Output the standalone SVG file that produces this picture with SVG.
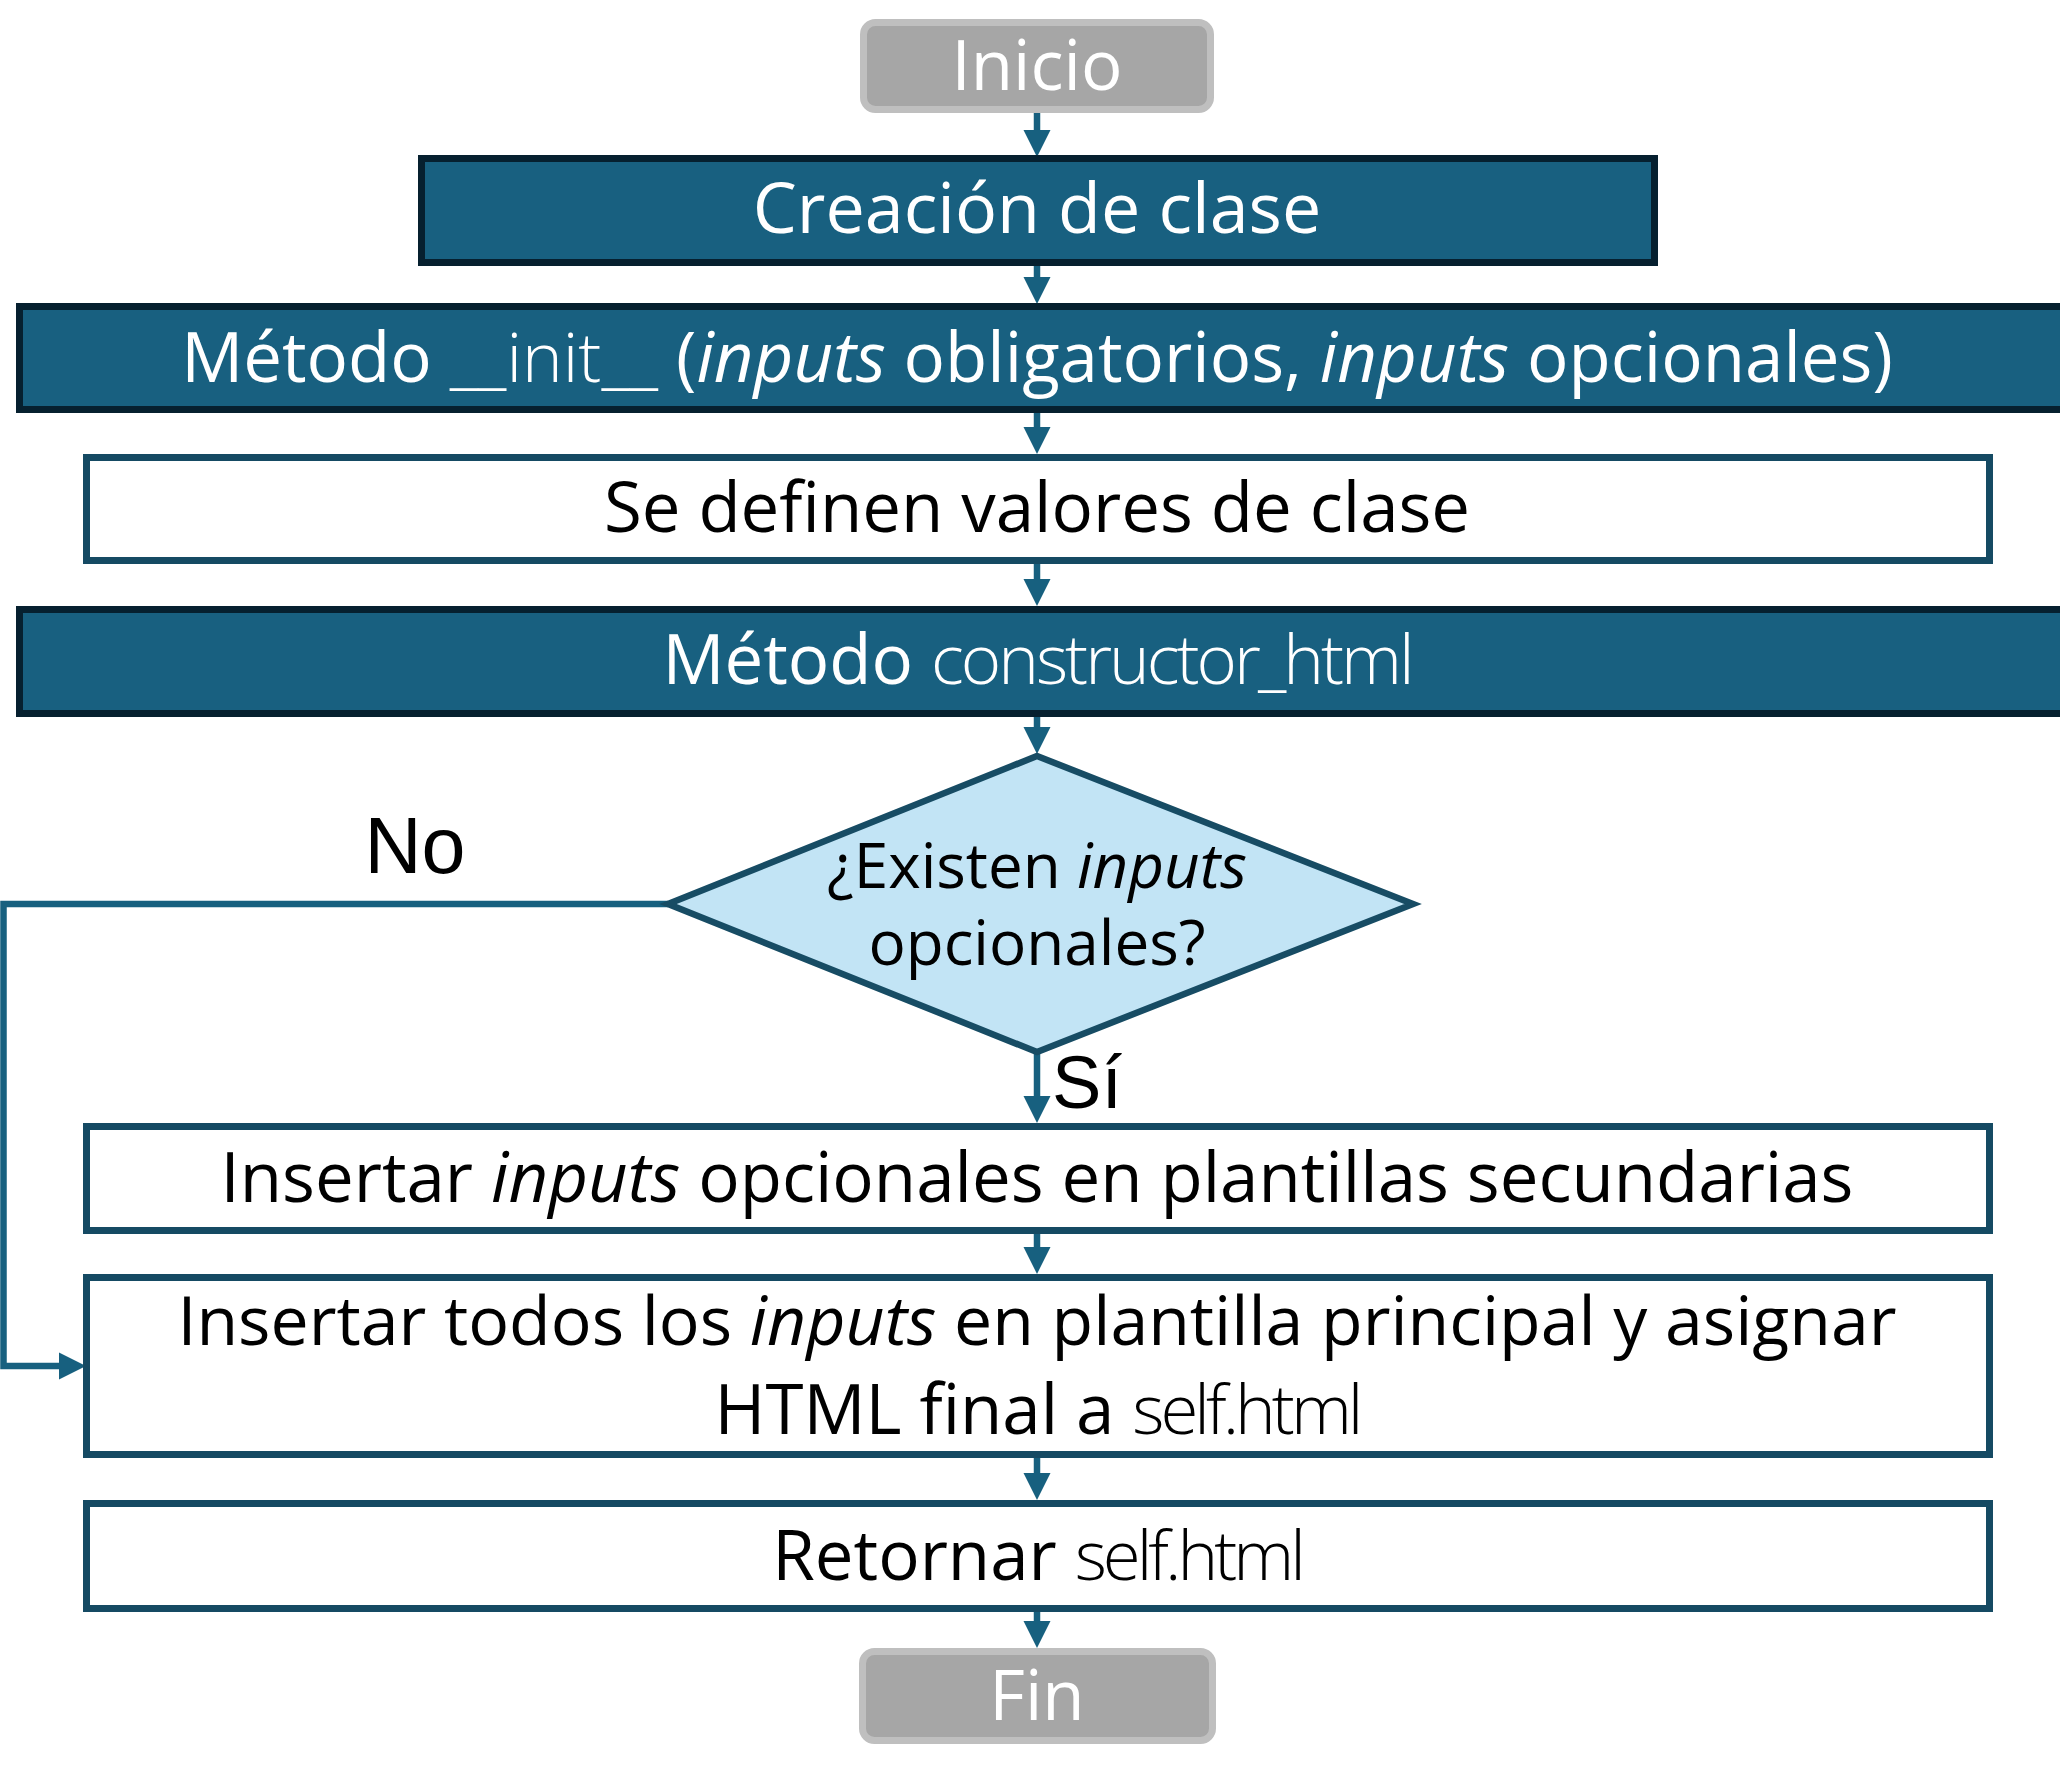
<svg xmlns="http://www.w3.org/2000/svg" width="2060" height="1784" viewBox="0 0 2060 1784">
<style>
.t{font-family:"Open Sans","Noto Sans","Liberation Sans",sans-serif;font-size:69px;text-anchor:middle}
.w{fill:#ffffff}
.k{fill:#000000}
.lt{font-weight:300}
.nar{letter-spacing:-4px}
.it{font-style:italic}
.term{fill:#a6a6a6;stroke:#bfbfbf;stroke-width:7}
.dark{fill:#186080;stroke:#06202f;stroke-width:7}
.light{fill:#ffffff;stroke:#154a63;stroke-width:7}
.dec{fill:#c2e4f5;stroke:#174c64;stroke-width:6.5;stroke-linejoin:miter}
.con{fill:none;stroke:#17607f;stroke-width:6.5;marker-end:url(#ah)}
.lab{font-family:"Liberation Sans",Arial,sans-serif;font-size:74px;fill:#000000;text-anchor:middle}
</style>
<defs>
<marker id="ah" markerUnits="userSpaceOnUse" markerWidth="28" markerHeight="28" refX="0" refY="13.5" orient="auto" overflow="visible">
<path d="M0,0 L27,13.5 L0,27 Z" fill="#17607f"/>
</marker>
</defs>
<rect width="2060" height="1784" fill="#ffffff"/>
<g id="connectors">
<path class="con" d="M1037,112 V130"/>
<path class="con" d="M1037,266 V277"/>
<path class="con" d="M1037,413 V427"/>
<path class="con" d="M1037,564 V579"/>
<path class="con" d="M1037,717 V727"/>
<path class="con" d="M1037,1052 V1096"/>
<path class="con" d="M1037,1234 V1247"/>
<path class="con" d="M1037,1458 V1473"/>
<path class="con" d="M1037,1612 V1621"/>
<path class="con" d="M668,904 H3.5 V1366 H59"/>
<text class="lab" x="415" y="873" style="font-size:79px">No</text>
<text class="lab" x="1087" y="1108">Sí</text>
</g>
<g id="inicio">
<rect class="term" x="863.5" y="22.5" width="347" height="87" rx="12"/>
<text class="t w" x="1037" y="90">Inicio</text>
</g>
<g id="creacion">
<rect class="dark" x="421.5" y="158.5" width="1233" height="104"/>
<text class="t w" x="1037" y="233" style="font-size:70px">Creación de clase</text>
</g>
<g id="init">
<rect class="dark" x="19.5" y="306.5" width="2100" height="103"/>
<text class="t w" x="1037" y="382">Método <tspan class="lt">__init__</tspan> (<tspan class="it">inputs</tspan> obligatorios, <tspan class="it">inputs</tspan> opcionales)</text>
</g>
<g id="valores">
<rect class="light" x="86.5" y="457.5" width="1903" height="103"/>
<text class="t k" x="1037" y="532">Se definen valores de clase</text>
</g>
<g id="constructor">
<rect class="dark" x="19.5" y="609.5" width="2100" height="104"/>
<text class="t w" x="1037" y="684">Método <tspan class="lt" style="letter-spacing:-3px">constructor_html</tspan></text>
</g>
<g id="decision">
<polygon class="dec" points="1037,756 1413,904 1037,1052 668,904"/>
<text class="t k" x="1037" y="888" style="font-size:62px">¿Existen <tspan class="it">inputs</tspan></text>
<text class="t k" x="1037" y="965" style="font-size:62px">opcionales?</text>
</g>
<g id="insertar-opcionales">
<rect class="light" x="86.5" y="1126.5" width="1903" height="104"/>
<text class="t k" x="1037" y="1202">Insertar <tspan class="it">inputs</tspan> opcionales en plantillas secundarias</text>
</g>
<g id="insertar-todos">
<rect class="light" x="86.5" y="1277.5" width="1903" height="177"/>
<text class="t k" x="1037" y="1345" style="font-size:68px">Insertar todos los <tspan class="it">inputs</tspan> en plantilla principal y asignar</text>
<text class="t k" x="1037" y="1434">HTML final a <tspan class="lt nar">self.html</tspan></text>
</g>
<g id="retornar">
<rect class="light" x="86.5" y="1503.5" width="1903" height="105"/>
<text class="t k" x="1037" y="1580">Retornar <tspan class="lt nar">self.html</tspan></text>
</g>
<g id="fin">
<rect class="term" x="862.5" y="1651.5" width="350" height="89" rx="12"/>
<text class="t w" x="1037" y="1720">Fin</text>
</g>
</svg>
